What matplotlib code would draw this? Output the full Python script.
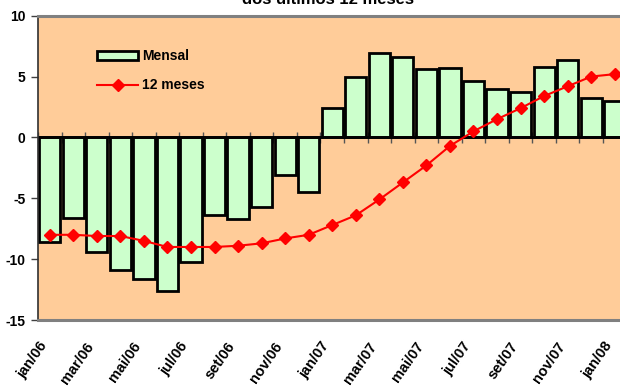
import numpy as np
import matplotlib
matplotlib.use("Agg")
import matplotlib.pyplot as plt

plt.rcParams['font.family'] = ['Liberation Sans', 'DejaVu Sans']

# Monthly labels, jan/06 .. jan/08
meses = ['jan/06', 'fev/06', 'mar/06', 'abr/06', 'mai/06', 'jun/06',
         'jul/06', 'ago/06', 'set/06', 'out/06', 'nov/06', 'dez/06',
         'jan/07', 'fev/07', 'mar/07', 'abr/07', 'mai/07', 'jun/07',
         'jul/07', 'ago/07', 'set/07', 'out/07', 'nov/07', 'dez/07',
         'jan/08']

# Monthly variation (%)
mensal = [-8.6, -6.6, -9.4, -10.9, -11.6, -12.6, -10.2, -6.4, -6.7, -5.7,
          -3.1, -4.5, 2.4, 5.0, 6.9, 6.6, 5.6, 5.7, 4.6, 4.0, 3.7, 5.8,
          6.4, 3.2, 3.0]

# Accumulated over the last 12 months (%)
doze_meses = [-8.0, -8.0, -8.1, -8.1, -8.5, -9.0, -9.0, -9.0, -8.9, -8.7,
              -8.3, -8.0, -7.2, -6.4, -5.1, -3.7, -2.3, -0.7, 0.5, 1.5,
              2.4, 3.4, 4.2, 5.0, 5.2]

y_ticks = [-15, -10, -5, 0, 5, 10]

fig = plt.figure(figsize=(6.2, 3.92), dpi=100)
ax = fig.add_axes([38 / 620, 72 / 392, 588.5 / 620, 304.3 / 392])
ax.set_facecolor('#FFCC99')

x = np.arange(len(meses))

# category separators crossing the zero line
bounds = np.arange(len(meses) + 1) - 0.5
ax.vlines(bounds, -0.45, 0.45, colors='#555555', lw=1, zorder=1)

bars = ax.bar(x, mensal, width=0.9, color='#CCFFCC', edgecolor='black',
              linewidth=2.0, zorder=2, label='Mensal')
ax.axhline(0, color='black', lw=2.0, zorder=2.5)
line, = ax.plot(x, doze_meses, color='red', lw=1.5, marker='D', ms=6,
                mec='red', zorder=4, label='12 meses')

ax.set_xlim(-0.5, len(meses) - 0.5)
ax.set_ylim(-15, 10)
ax.set_yticks(y_ticks)
ax.set_yticklabels([str(v) for v in y_ticks], fontweight='bold', fontsize=10)
ax.set_xticks(x[::2])
ax.set_xticklabels(meses[::2], rotation=55, ha='right', fontweight='bold',
                   fontsize=10.5)
ax.tick_params(axis='x', length=0, pad=14)
ax.tick_params(axis='y', length=5, width=1, color='#404040', pad=4)

for side in ('top', 'bottom'):
    ax.spines[side].set_color('#808080')
    ax.spines[side].set_linewidth(2.2)
ax.spines['left'].set_color('#303030')
ax.spines['left'].set_linewidth(1.2)
ax.spines['right'].set_visible(False)

ax.legend(handles=[bars, line], loc='upper left',
          bbox_to_anchor=(0.0997, 0.89), frameon=False,
          prop={'size': 10, 'weight': 'bold'}, handlelength=3.0,
          handleheight=0.6, handletextpad=0.25, labelspacing=1.1,
          borderpad=0, borderaxespad=0, numpoints=1)

fig.text(328 / 620, 1 - 4.5 / 392, 'dos últimos 12 meses', ha='center',
         va='baseline', fontsize=12, fontweight='bold')

fig.savefig('out.png', dpi=100)
